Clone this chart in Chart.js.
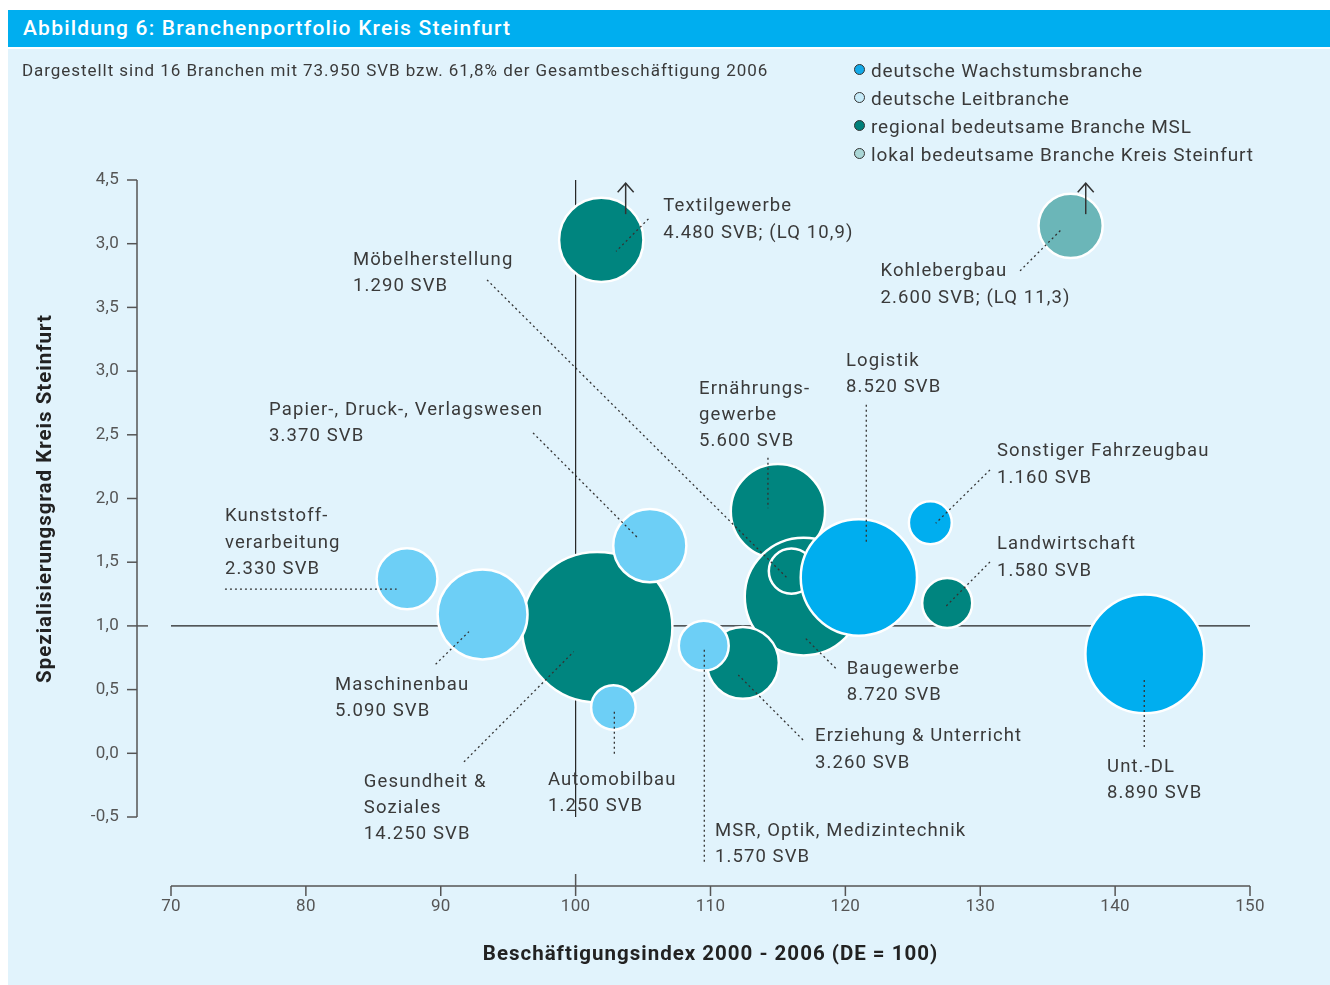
<!DOCTYPE html>
<html lang="de">
<head>
<meta charset="utf-8">
<title>Abbildung 6: Branchenportfolio Kreis Steinfurt</title>
<script src="https://cdn.jsdelivr.net/npm/chart.js@4.4.1/dist/chart.umd.min.js"></script>
<style>
  html, body { margin: 0; padding: 0; background: #fff; }
  body { width: 1330px; height: 985px; position: relative; overflow: hidden; font-family: Roboto, "Noto Sans", sans-serif; }
  #titlebar { position: absolute; left: 8px; top: 10px; width: 1322px; height: 37px; background: #00aeef; color: #fff;
              font-size: 21px; font-weight: 500; line-height: 37px; padding-left: 15px; box-sizing: border-box; letter-spacing: 1.2px; }
  #panel { position: absolute; left: 8px; top: 49px; width: 1322px; height: 936px; background: #e1f3fc; }
  #chart { position: absolute; left: 0; top: 0; }
  #subtitle { position: absolute; left: 14px; top: 11px; font-size: 17px; line-height: 20px; color: #3a3a3a; letter-spacing: 0.95px; }
  #legend { position: absolute; left: 846px; top: 8px; }
  #legend .item { height: 28px; line-height: 28px; font-size: 19px; color: #3a3a3a; white-space: nowrap; letter-spacing: 0.85px; }
  #legend .dot { display: inline-block; width: 9px; height: 9px; border-radius: 50%; border: 1.5px solid #333;
                 margin-right: 6px; vertical-align: middle; position: relative; top: -2px; }
</style>
</head>
<body>
<div id="titlebar">Abbildung 6: Branchenportfolio Kreis Steinfurt</div>
<div id="panel">
  <canvas id="chart" width="1322" height="936"></canvas>
  <div id="subtitle">Dargestellt sind 16 Branchen mit 73.950 SVB bzw. 61,8% der Gesamtbeschäftigung 2006</div>
  <div id="legend"></div>
</div>
<script>
// --- Data (listed in drawing order, later bubbles lie on top)
const branchen = [
  ["Gesundheit &", "Soziales"], ["Maschinenbau"], ["Kunststoff-", "verarbeitung"], ["Papier-, Druck-, Verlagswesen"],
  ["Automobilbau"], ["Ernährungs-", "gewerbe"], ["Baugewerbe"], ["Möbelherstellung"],
  ["Erziehung & Unterricht"], ["MSR, Optik, Medizintechnik"], ["Logistik"], ["Sonstiger Fahrzeugbau"],
  ["Landwirtschaft"], ["Textilgewerbe"], ["Kohlebergbau"], ["Unt.-DL"]
];
const svb = [14250, 5090, 2330, 3370, 1250, 5600, 8720, 1290, 3260, 1570, 8520, 1160, 1580, 4480, 2600, 8890];
const beschIndex = [101.6, 93.1, 87.5, 105.5, 102.8, 115.0, 116.9, 116.0, 112.4, 109.5, 121.0, 126.3, 127.55, 101.9, 136.7, 142.2];
const spezGrad = [0.99, 1.09, 1.37, 1.63, 0.36, 1.90, 1.23, 1.43, 0.71, 0.845, 1.38, 1.81, 1.18, 4.03, 4.14, 0.78];
const lqNote = [null, null, null, null, null, null, null, null, null, null, null, null, null, "10,9", "11,3", null];
const kategorie = ["regional", "leit", "leit", "leit", "leit", "regional", "regional", "regional",
                   "regional", "leit", "wachstum", "wachstum", "regional", "regional", "lokal", "wachstum"];

const kategorien = ["wachstum", "leit", "regional", "lokal"];
const kategorieNamen = ["deutsche Wachstumsbranche", "deutsche Leitbranche", "regional bedeutsame Branche MSL", "lokal bedeutsame Branche Kreis Steinfurt"];

const xTicks = [70, 80, 90, 100, 110, 120, 130, 140, 150];
const yTickLabels = ["-0,5", "0,0", "0,5", "1,0", "1,5", "2,0", "2,5", "3,0", "3,5", "3,0", "4,5"];
const refX = 100, refY = 1.0;
const xTitle = "Beschäftigungsindex 2000 - 2006 (DE = 100)";
const yTitle = "Spezialisierungsgrad Kreis Steinfurt";

// --- Annotation layout (data units): label anchor, leader line, off-scale arrows
const labelPos = [
  [84.3, -0.225], [82.16, 0.537], [74.0, 1.856], [77.27, 2.695], [97.95, -0.209], [109.15, 2.86], [120.1, 0.6625], [83.49, 3.873],
  [117.75, 0.129], [110.33, -0.609], [120.05, 3.08], [131.24, 2.366], [131.24, 1.636], [106.5, 4.29], [122.6, 3.78], [139.4, -0.107]
];
const leaders = [
  [91.72, -0.0675, 99.86, 0.798], [89.62, 0.699, 92.09, 0.955], [74.0, 1.288, 86.73, 1.288], [96.84, 2.515, 104.62, 1.69],
  [102.87, 0.327, 102.87, -0.028], [114.26, 2.319, 114.26, 1.924], [119.28, 0.668, 116.96, 0.911], [93.43, 3.716, 115.75, 1.369],
  [116.86, 0.105, 112.06, 0.615], [109.54, 0.812, 109.54, -0.852], [121.55, 2.735, 121.55, 1.636], [130.72, 2.224, 126.7, 1.806],
  [130.72, 1.502, 127.44, 1.152], [105.4, 4.195, 103.0, 3.94], [132.95, 3.787, 136.06, 4.116], [142.16, 0.576, 142.16, 0.027]
];
const upArrows = [[103.71, 4.232, 4.475], [137.82, 4.232, 4.475]];

// --- Styles
const bubbleColor = { wachstum: "#00aeef", leit: "#6dcff6", regional: "#00857f", lokal: "#6bb6b8" };
const legendColor = { wachstum: "#12a9e8", leit: "#c6ebf9", regional: "#00807a", lokal: "#aad6d6" };
const TEXT = "#3a3a3a";

function fmtThousands(n){
  return String(n).replace(/\B(?=(\d{3})+(?!\d))/g, ".");
}

// --- Legend (HTML)
const elLegend = document.getElementById("legend");
kategorien.forEach((k, i) => {
  const row = document.createElement("div");
  row.className = "item";
  const dot = document.createElement("span");
  dot.className = "dot";
  dot.style.background = legendColor[k];
  row.appendChild(dot);
  row.appendChild(document.createTextNode(kategorieNamen[i]));
  elLegend.appendChild(row);
});

// --- Plugins
function seg(ctx, x1, y1, x2, y2){
  ctx.beginPath();
  ctx.moveTo(x1, y1);
  ctx.lineTo(x2, y2);
  ctx.stroke();
}

// axis titles are drawn before the datasets, tick labels (z: 1) after them;
// wider tracking for the titles only
const tracking = {
  id: "tracking",
  beforeDraw(chart){ chart.ctx.letterSpacing = "1px"; },
  afterDraw(chart){ chart.ctx.letterSpacing = "0px"; }
};

const axesAndRefs = {
  id: "axesAndRefs",
  beforeDatasetsDraw(chart){
    const { ctx, chartArea, scales: { x, y } } = chart;
    ctx.save();
    // reference lines DE = 100 / LQ = 1
    ctx.strokeStyle = "#222";
    ctx.lineWidth = 1.2;
    seg(ctx, x.getPixelForValue(refX), y.getPixelForValue(y.max), x.getPixelForValue(refX), y.getPixelForValue(y.min));
    seg(ctx, x.getPixelForValue(x.min), y.getPixelForValue(refY), x.getPixelForValue(x.max), y.getPixelForValue(refY));

    // detached axes
    ctx.strokeStyle = "#555";
    ctx.lineWidth = 1.5;
    const ax = chartArea.left - 34;
    seg(ctx, ax, y.getPixelForValue(y.max), ax, y.getPixelForValue(y.min));
    y.ticks.forEach(t => {
      const py = y.getPixelForValue(t.value);
      seg(ctx, ax - 10, py, Math.abs(t.value - refY) < 1e-9 ? ax + 11 : ax, py);
    });
    const ay = chartArea.bottom + 69;
    seg(ctx, x.getPixelForValue(x.min), ay, x.getPixelForValue(x.max), ay);
    x.ticks.forEach(t => {
      const px = x.getPixelForValue(t.value);
      seg(ctx, px, t.value === refX ? ay - 12 : ay, px, ay + 10);
    });
    ctx.restore();
  }
};

const annotations = {
  id: "annotations",
  afterDatasetsDraw(chart){
    const { ctx, scales: { x, y } } = chart;
    ctx.save();
    // leader lines
    ctx.strokeStyle = "#333";
    ctx.lineWidth = 1.3;
    ctx.setLineDash([2, 3]);
    leaders.forEach(l => seg(ctx, x.getPixelForValue(l[0]), y.getPixelForValue(l[1]), x.getPixelForValue(l[2]), y.getPixelForValue(l[3])));
    ctx.setLineDash([]);

    // arrows for values beyond the axis
    ctx.lineWidth = 1.5;
    upArrows.forEach(a => {
      const px = x.getPixelForValue(a[0]);
      const tail = y.getPixelForValue(a[1]);
      const tip = y.getPixelForValue(a[2]);
      seg(ctx, px, tail, px, tip);
      ctx.beginPath();
      ctx.moveTo(px - 8, tip + 9);
      ctx.lineTo(px, tip);
      ctx.lineTo(px + 8, tip + 9);
      ctx.stroke();
    });

    // labels
    ctx.fillStyle = TEXT;
    ctx.font = "18.5px Roboto";
    ctx.letterSpacing = "1.1px";
    ctx.textAlign = "left";
    ctx.textBaseline = "middle";
    branchen.forEach((name, i) => {
      let last = fmtThousands(svb[i]) + " SVB";
      if (lqNote[i]) last += "; (LQ " + lqNote[i] + ")";
      const lines = name.concat([last]);
      const px = x.getPixelForValue(labelPos[i][0]);
      const py = y.getPixelForValue(labelPos[i][1]);
      lines.forEach((t, j) => ctx.fillText(t, px, py + j * 26.3));
    });
    ctx.restore();
    ctx.letterSpacing = "0.3px";   // tick labels come next
  }
};

// --- Chart
Chart.defaults.font.family = "Roboto";

const points = svb.map((v, i) => ({ x: beschIndex[i], y: spezGrad[i], r: Math.sqrt(v) * 0.63 }));

new Chart(document.getElementById("chart"), {
  type: "bubble",
  data: {
    datasets: [{
      data: points,
      backgroundColor: kategorie.map(k => bubbleColor[k]),
      borderColor: "#ffffff",
      borderWidth: 2.5,
      clip: false
    }]
  },
  options: {
    responsive: false,
    animation: false,
    events: [],
    layout: { padding: { top: 131, right: 80, left: 0, bottom: 0 } },
    plugins: { legend: { display: false }, tooltip: { enabled: false } },
    scales: {
      x: {
        type: "linear", min: xTicks[0], max: xTicks[xTicks.length - 1], offset: false,
        grid: { display: false, drawTicks: false }, border: { display: false },
        afterBuildTicks: s => { s.ticks = xTicks.map(v => ({ value: v })); },
        ticks: { z: 1, padding: 80, color: "#555", font: { size: 17 }, callback: v => String(v) },
        title: { display: true, text: xTitle, color: "#222", font: { size: 20.5, weight: "bold" }, padding: { top: 0, bottom: 18 } },
        afterFit: s => { s.height = 168; s.paddingLeft = 0; s.paddingRight = 0; }
      },
      y: {
        type: "linear", min: -0.5, max: 4.5,
        grid: { display: false, drawTicks: false }, border: { display: false },
        ticks: { z: 1, stepSize: 0.5, padding: 52, color: "#555", font: { size: 17 }, callback: (v, i) => yTickLabels[i] },
        title: { display: true, text: yTitle, color: "#222", font: { size: 20.5, weight: "bold" }, padding: { top: 26, bottom: 0 } },
        afterFit: s => { s.width = 163; s.paddingTop = 0; s.paddingBottom = 0; }
      }
    }
  },
  plugins: [tracking, axesAndRefs, annotations]
});
</script>
</body>
</html>
